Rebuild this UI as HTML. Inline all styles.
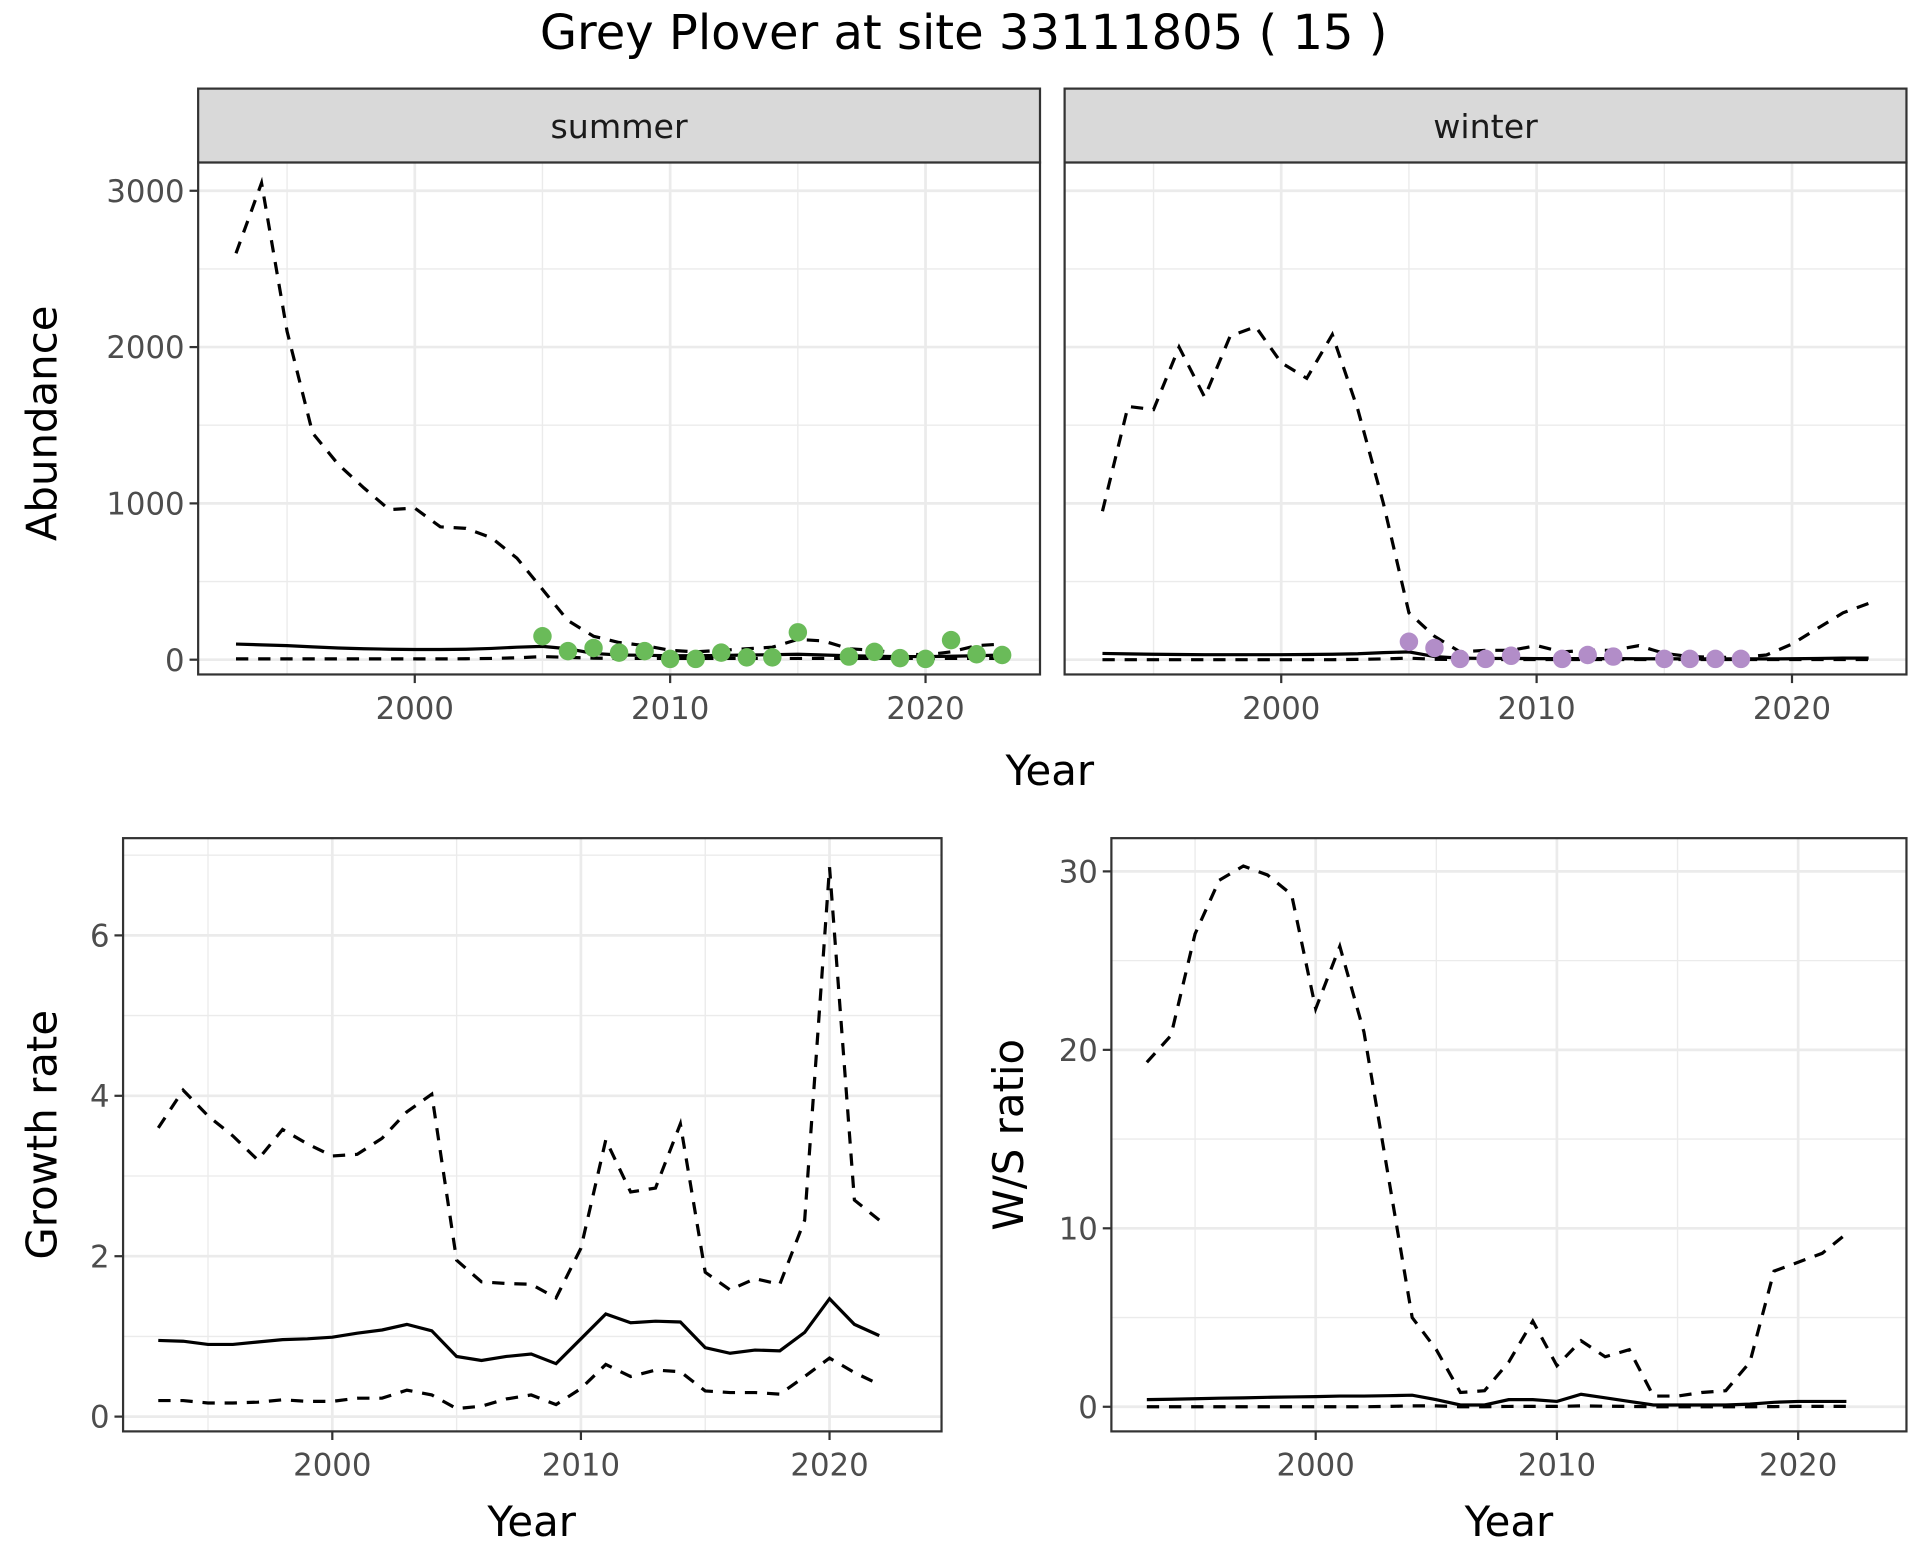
<!DOCTYPE html>
<html><head><meta charset="utf-8"><style>
html,body{margin:0;padding:0;background:#fff;}
svg{display:block;font-family:"DejaVu Sans","Liberation Sans",sans-serif;}
</style></head><body>
<svg id="chart" width="1920" height="1560" viewBox="0 0 1560 1267.5" xmlns="http://www.w3.org/2000/svg">
<rect width="1560" height="1267.5" fill="#fff"/>
<text x="783" y="40" font-size="39" text-anchor="middle" fill="#000">Grey Plover at site 33111805 ( 15 )</text>
<g id="g"></g>
</svg>
<script>
const years = [1993,1994,1995,1996,1997,1998,1999,2000,2001,2002,2003,2004,2005,2006,2007,2008,2009,2010,2011,2012,2013,2014,2015,2016,2017,2018,2019,2020,2021,2022,2023];
const summerUpper = [2600,3050,2100,1450,1250,1100,960,970,850,840,780,650,450,250,150,110,90,60,50,60,70,80,130,120,70,60,40,30,50,90,100];
const summerMid = [100,95,90,82,75,70,67,65,65,67,72,80,85,70,40,30,28,25,25,27,30,32,35,30,25,22,20,20,22,25,30];
const summerLower = [5,5,5,5,5,5,5,5,5,6,8,12,20,15,10,8,8,8,8,8,8,8,8,8,8,8,8,8,8,8,8];
const summerObsYears = [2005,2006,2007,2008,2009,2010,2011,2012,2013,2014,2015,2017,2018,2019,2020,2021,2022,2023];
const summerObs = [150,55,75,45,55,5,5,45,15,15,175,20,50,10,5,125,35,30];
const winterUpper = [950,1620,1600,2000,1680,2070,2130,1900,1800,2080,1600,1000,300,150,50,60,60,90,50,60,60,90,40,20,15,15,30,100,200,300,360];
const winterMid = [40,37,35,33,32,32,32,32,33,35,38,45,50,20,10,8,8,7,7,7,7,6,6,5,5,5,5,6,8,10,10];
const winterLower = [0,0,0,0,0,0,0,0,0,0,2,5,10,3,1,1,1,1,1,1,1,1,1,1,1,1,1,1,1,1,1];
const winterObsYears = [2005,2006,2007,2008,2009,2011,2012,2013,2015,2016,2017,2018];
const winterObs = [115,75,5,5,25,5,30,20,5,5,5,5];
const grYears = years.slice(0,30);
const growthUpper = [3.6,4.07,3.75,3.5,3.2,3.58,3.4,3.25,3.27,3.47,3.8,4.02,1.95,1.68,1.66,1.65,1.48,2.1,3.45,2.8,2.85,3.65,1.8,1.58,1.72,1.65,2.45,6.85,2.7,2.45];
const growthMid = [0.95,0.94,0.9,0.9,0.93,0.96,0.97,0.99,1.04,1.08,1.15,1.07,0.75,0.7,0.75,0.78,0.66,0.97,1.28,1.17,1.19,1.18,0.86,0.79,0.83,0.82,1.05,1.47,1.15,1.01];
const growthLower = [0.2,0.2,0.17,0.17,0.18,0.21,0.19,0.19,0.23,0.23,0.33,0.27,0.1,0.13,0.22,0.27,0.15,0.35,0.65,0.5,0.58,0.56,0.32,0.3,0.3,0.28,0.5,0.73,0.55,0.4];
const ratioUpper = [19.3,20.8,26.5,29.5,30.3,29.8,28.7,22.3,25.8,21,13,5,3.2,0.8,0.9,2.5,4.8,2.3,3.7,2.8,3.2,0.6,0.6,0.8,0.9,2.5,7.6,8.1,8.6,9.7];
const ratioMid = [0.4,0.42,0.45,0.48,0.5,0.53,0.55,0.57,0.6,0.6,0.62,0.65,0.4,0.1,0.1,0.4,0.4,0.3,0.7,0.5,0.3,0.1,0.1,0.1,0.1,0.15,0.25,0.3,0.3,0.3];
const ratioLower = [0,0,0,0,0,0,0,0,0,0,0.02,0.05,0.05,0,0,0.02,0.02,0.02,0.05,0.03,0.02,0,0,0,0,0,0.01,0.02,0.02,0.02];
const abTicks = [0,1000,2000,3000];
const grTicks = [0,2,4,6];
const raTicks = [0,10,20,30];
const xTicks = [2000,2010,2020];

const NS='http://www.w3.org/2000/svg';
const G=document.getElementById('g');
function el(tag,attrs,parent){const e=document.createElementNS(NS,tag);for(const k in attrs)e.setAttribute(k,attrs[k]);(parent||G).appendChild(e);return e;}
function txt(s,attrs,parent){const e=el('text',attrs,parent);e.textContent=s;return e;}

function panel(o){
  const g=el('g',{});
  
  
  const xs=v=>o.x0+(v-o.xa)*(o.x1-o.x0)/(o.xb-o.xa);
  const ys=v=>o.y0+(v-o.ya)*(o.y1-o.y0)/(o.yb-o.ya);
  o.xMinor.forEach(v=>el('line',{x1:xs(v),x2:xs(v),y1:o.top,y2:o.bottom,stroke:'#EBEBEB','stroke-width':1.1},g));
  o.yMinor.forEach(v=>el('line',{x1:o.left,x2:o.right,y1:ys(v),y2:ys(v),stroke:'#EBEBEB','stroke-width':1.1},g));
  xTicks.forEach(v=>el('line',{x1:xs(v),x2:xs(v),y1:o.top,y2:o.bottom,stroke:'#EBEBEB','stroke-width':2.2},g));
  o.yTicks.forEach(v=>el('line',{x1:o.left,x2:o.right,y1:ys(v),y2:ys(v),stroke:'#EBEBEB','stroke-width':2.2},g));
  const line=(arrX,arrY,dash,nm)=>{
    const p=el('polyline',{points:arrX.map((x,i)=>xs(x)+','+ys(arrY[i])).join(' '),fill:'none',stroke:'#000','stroke-width':2.6,'stroke-dasharray':dash?'10,8':'none'},g);
    
    
  };
  line(o.years,o.upper,true,o.name+'-upper-line');
  line(o.years,o.lower,true,o.name+'-lower-line');
  line(o.years,o.mid,false,o.name+'-mean-line');
  if(o.obs){o.obsYears.forEach((yr,i)=>{
    const c=el('circle',{cx:xs(yr),cy:ys(o.obs[i]),r:7.5,fill:o.color},g);
    
    
  });}
  el('rect',{x:o.left,y:o.top,width:o.right-o.left,height:o.bottom-o.top,fill:'none',stroke:'#333','stroke-width':1.8},g);
  if(o.strip){
    const s=el('rect',{x:o.left,y:o.top-60,width:o.right-o.left,height:60,fill:'#D9D9D9',stroke:'#333','stroke-width':1.8},g);
    
    
    txt(o.strip,{x:(o.left+o.right)/2,y:o.top-20,'font-size':27,'text-anchor':'middle',fill:'#1A1A1A'},g);
  }
  xTicks.forEach(v=>{
    el('line',{x1:xs(v),x2:xs(v),y1:o.bottom,y2:o.bottom+7,stroke:'#333','stroke-width':1.8},g);
    const t=txt(String(v),{x:xs(v),y:o.bottom+36,'font-size':25,'text-anchor':'middle',fill:'#4D4D4D'},g);
    
    
  });
  if(o.showY){o.yTicks.forEach(v=>{
    el('line',{x1:o.left-7,x2:o.left,y1:ys(v),y2:ys(v),stroke:'#333','stroke-width':1.8},g);
    const t=txt(String(v),{x:o.left-11,y:ys(v)+9,'font-size':25,'text-anchor':'end',fill:'#4D4D4D'},g);
    
    
  });}
}
panel({name:'summer-panel',strip:'summer',left:161,right:845,top:132,bottom:548,x0:337,x1:752,xa:2000,xb:2020,y0:536,y1:155,ya:0,yb:3000,
  xMinor:[1995,2005,2015],yMinor:[500,1500,2500],yTicks:abTicks,showY:true,years:years,upper:summerUpper,mid:summerMid,lower:summerLower,obsYears:summerObsYears,obs:summerObs,color:'#6ABB59'});
panel({name:'winter-panel',strip:'winter',left:865,right:1549,top:132,bottom:548,x0:1041,x1:1456,xa:2000,xb:2020,y0:536,y1:155,ya:0,yb:3000,
  xMinor:[1995,2005,2015],yMinor:[500,1500,2500],yTicks:abTicks,showY:false,years:years,upper:winterUpper,mid:winterMid,lower:winterLower,obsYears:winterObsYears,obs:winterObs,color:'#B28DC8'});
panel({name:'growth-panel',left:100,right:765,top:681,bottom:1163,x0:270,x1:674,xa:2000,xb:2020,y0:1151,y1:760,ya:0,yb:6,
  xMinor:[1995,2005,2015],yMinor:[1,3,5,7],yTicks:grTicks,showY:true,years:grYears,upper:growthUpper,mid:growthMid,lower:growthLower});
panel({name:'ratio-panel',left:903,right:1549,top:681,bottom:1163,x0:1069,x1:1461,xa:2000,xb:2020,y0:1143,y1:708,ya:0,yb:30,
  xMinor:[1995,2005,2015],yMinor:[5,15,25],yTicks:raTicks,showY:true,years:grYears,upper:ratioUpper,mid:ratioMid,lower:ratioLower});
const labels=[['Year',853,638,0,'x-axis-title-top'],['Year',432,1248,0,'x-axis-title-growth'],['Year',1226,1248,0,'x-axis-title-ratio'],
 ['Abundance',46,344,-90,'y-axis-title-abundance'],['Growth rate',46,922,-90,'y-axis-title-growth'],['W/S ratio',831,922,-90,'y-axis-title-ratio']];
labels.forEach(l=>{
  const t=txt(l[0],{x:l[1],y:l[2],'font-size':34,'text-anchor':'middle',fill:'#000',transform:'rotate('+l[3]+' '+l[1]+' '+l[2]+')'});
  
  
});
</script>
</body></html>
